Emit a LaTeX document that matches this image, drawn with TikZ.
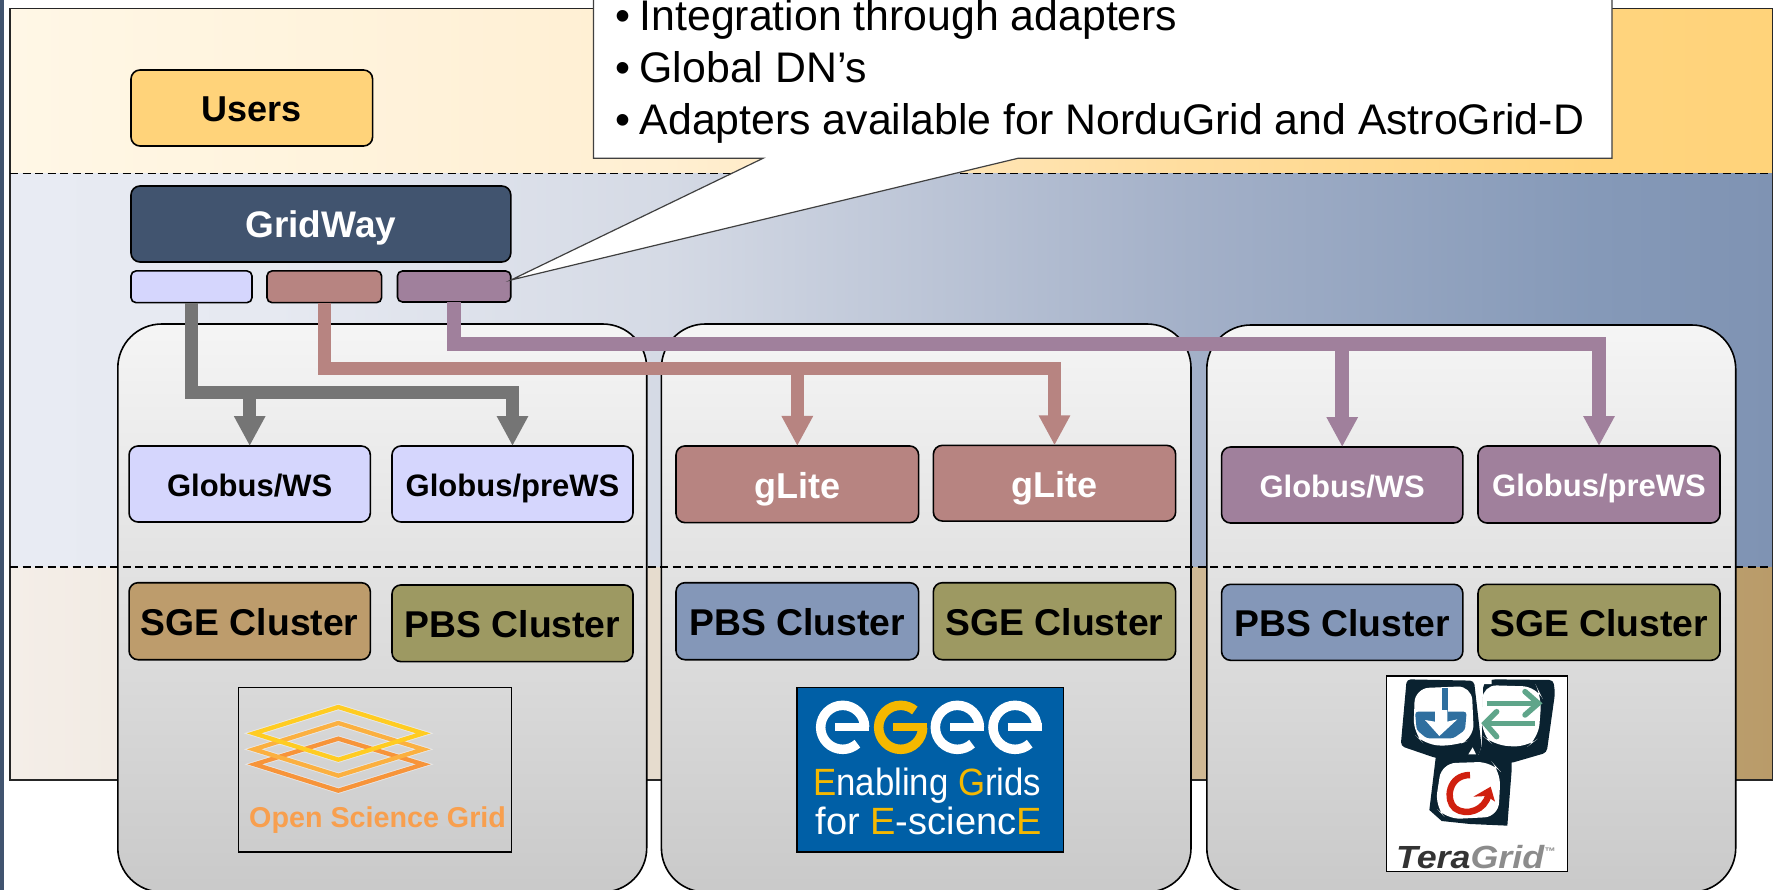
\documentclass[tikz,border=0pt]{standalone}
\usepackage{fontspec}
\usepackage{graphicx}
\setmainfont{Liberation Sans}
\usetikzlibrary{arrows.meta}
\definecolor{navy}{HTML}{41546F}
\definecolor{gold}{HTML}{FFD37A}
\definecolor{lilac}{HTML}{D5D6FD}
\definecolor{rosy}{HTML}{B78481}
\definecolor{mauve}{HTML}{A0809C}
\definecolor{tan}{HTML}{BD9C6C}
\definecolor{olive}{HTML}{9D9962}
\definecolor{steel}{HTML}{8497B8}
\definecolor{ashg}{HTML}{757575}
\definecolor{egeeblue}{HTML}{005FA6}
\definecolor{egeeyel}{HTML}{F5B800}
\definecolor{tgdark}{HTML}{0A2230}
\definecolor{tgblue}{HTML}{2F6F9F}
\definecolor{tggreen}{HTML}{5FA58A}
\definecolor{tgred}{HTML}{D0200F}
\definecolor{osgy}{HTML}{FFCC22}
\definecolor{osga}{HTML}{FBB040}
\definecolor{osgo}{HTML}{F7943A}
\definecolor{topa}{HTML}{FFF7E6}\definecolor{topb}{HTML}{FFEFD2}\definecolor{topc}{HTML}{FFDD9E}\definecolor{topd}{HTML}{FFD47E}\definecolor{tope}{HTML}{FFD37A}
\definecolor{mida}{HTML}{E8EBF3}\definecolor{midb}{HTML}{E6E9F1}\definecolor{midc}{HTML}{D5DAE5}\definecolor{midd}{HTML}{A3B0C8}\definecolor{mide}{HTML}{8599B8}\definecolor{midf}{HTML}{7F93B3}
\definecolor{lowa}{HTML}{F4EEE8}\definecolor{lowb}{HTML}{E6DCCE}\definecolor{lowc}{HTML}{CFB995}\definecolor{lowd}{HTML}{B99B69}
\pgfdeclarehorizontalshading{topband}{100bp}{color(0bp)=(topa);color(25bp)=(topa);color(43.5bp)=(topb);color(58.5bp)=(topc);color(70bp)=(topd);color(75bp)=(tope);color(100bp)=(tope)}
\pgfdeclarehorizontalshading{midband}{100bp}{color(0bp)=(mida);color(25bp)=(mida);color(32.5bp)=(midb);color(43.5bp)=(midc);color(58.5bp)=(midd);color(70bp)=(mide);color(75bp)=(midf);color(100bp)=(midf)}
\pgfdeclarehorizontalshading{lowband}{100bp}{color(0bp)=(lowa);color(25bp)=(lowa);color(43.5bp)=(lowb);color(58.5bp)=(lowc);color(75bp)=(lowd);color(100bp)=(lowd)}
\tikzset{
  boxbase/.style={draw=black,line width=1.6pt,rounded corners=9pt,inner sep=0pt,outer sep=0pt,align=center},
  bigtxt/.style={boxbase,font=\fontsize{37}{40}\selectfont\bfseries,text height=26.5pt,text depth=0pt},
  clustxt/.style={boxbase,font=\fontsize{37.3}{40}\selectfont\bfseries,text height=29pt,text depth=0pt},
  midtxt/.style={boxbase,font=\fontsize{31}{34}\selectfont\bfseries,text height=24pt,text depth=0pt},
  glitetxt/.style={boxbase,font=\fontsize{36}{40}\selectfont\bfseries,text height=28pt,text depth=0pt},
  stub/.style={boxbase,rounded corners=5pt},
  cluster/.style={draw=black,line width=1.6pt,rounded corners=44pt,inner sep=0pt,outer sep=0pt,top color=white!96!black,bottom color=black!21},
  logobox/.style={draw=black,line width=1.6pt,inner sep=0pt,outer sep=0pt},
  calltxt/.style={anchor=base west,inner sep=0pt,font=\fontsize{42.8}{52}\selectfont},
  sepline/.style={draw=black,line width=1.5pt,dash pattern=on 8pt off 4.5pt},
  wire/.style={line width=13.5pt,-{Triangle[length=30pt,width=29.5pt]}},
}
\newcommand{\bulletline}[1]{\makebox[24.5pt][l]{•}#1}
\newcommand{\egeeE}[1]{%
  \draw[white,line width=9.5pt] (#1+66,172) arc[start angle=0,end angle=312,radius=22pt];
  \draw[white,line width=7.8pt] (#1-22,172) -- (#1+80,172);}
\begin{document}
\begin{tikzpicture}[x=1pt,y=-1pt]
\clip (0,0) rectangle (1776,890);
\fill[white] (0,0) rectangle (1776,890);
\fill[navy] (0,0) rectangle (3.5,890);
% bands
\shade[shading=topband] (10.2,8.5) rectangle (1772.5,173.7);
\shade[shading=midband] (10.2,173.7) rectangle (1772.5,567);
\shade[shading=lowband] (10.2,567) rectangle (1772.5,780);
\draw[line width=1.5pt,draw=black!85] (10.2,8.5) rectangle (1772.5,780);
% clusters
\node[cluster,minimum width=528.9pt,minimum height=568pt] (c1) at (382.25,608) {};
\node[cluster,minimum width=529.6pt,minimum height=568pt] (c2) at (926.2,608) {};
\node[cluster,minimum width=528.9pt,minimum height=567pt] (c3) at (1471.25,608.5) {};
\coordinate (sepA) at (10.2,173.7);
\coordinate (sepB) at (1772.5,173.7);
\coordinate (sepC) at (10.2,567);
\coordinate (sepD) at (1772.5,567);
\draw[sepline] (sepA) -- (sepB);
\draw[sepline] (sepC) -- (sepD);
% boxes
\node[bigtxt,fill=gold,minimum width=241.6pt,minimum height=76pt] (users) at (251.8,108) {\fontsize{36}{40}\selectfont Users};
\node[bigtxt,fill=navy,text=white,minimum width=379.8pt,minimum height=76pt] (gridway) at (320.9,224) {GridWay};
\node[stub,fill=lilac,minimum width=121pt,minimum height=31.7pt] (a1) at (191.5,286.8) {};
\node[stub,fill=rosy,minimum width=114.6pt,minimum height=31.7pt] (a2) at (324.3,286.8) {};
\node[stub,fill=mauve,minimum width=113.3pt,minimum height=31pt] (a3) at (454.1,286.5) {};
\node[midtxt,fill=lilac,minimum width=241.3pt,minimum height=76pt] (g1) at (249.7,484) {Globus/WS};
\node[midtxt,fill=lilac,minimum width=241pt,minimum height=76pt] (g2) at (512.5,484) {Globus/preWS};
\node[glitetxt,fill=rosy,text=white,minimum width=242.6pt,minimum height=76.7pt] (l1) at (797.3,484.3) {gLite};
\node[glitetxt,fill=rosy,text=white,minimum width=242.3pt,minimum height=75.7pt] (l2) at (1054.5,483.2) {gLite};
\node[midtxt,fill=mauve,text=white,minimum width=241.3pt,minimum height=76pt] (t1) at (1342.2,485) {Globus/WS};
\node[midtxt,fill=mauve,text=white,minimum width=242pt,minimum height=77pt] (t2) at (1599,484.5) {Globus/preWS};
\node[clustxt,fill=tan,minimum width=241.3pt,minimum height=77pt] (s1) at (249.7,621.2) {SGE Cluster};
\node[clustxt,fill=olive,minimum width=241pt,minimum height=76.7pt] (s2) at (512.5,623.3) {PBS Cluster};
\node[clustxt,fill=steel,minimum width=242.6pt,minimum height=77pt] (s3) at (797.3,621.2) {PBS Cluster};
\node[clustxt,fill=olive,minimum width=242.3pt,minimum height=77pt] (s4) at (1054.5,621.2) {SGE Cluster};
\node[clustxt,fill=steel,minimum width=241.3pt,minimum height=76pt] (s5) at (1342.2,622.3) {PBS Cluster};
\node[clustxt,fill=olive,minimum width=242pt,minimum height=76pt] (s6) at (1599,622.3) {SGE Cluster};
% connectors
\coordinate (busA) at (0,392.3);
\coordinate (busB) at (0,368.3);
\coordinate (busC) at (0,344.2);
\draw[wire,draw=ashg] (a1.south) -- (a1.south |- busA) -- (g1.north |- busA) -- (g1.north);
\draw[wire,draw=ashg] (a1.south) -- (a1.south |- busA) -- (g2.north |- busA) -- (g2.north);
\draw[wire,draw=rosy] (a2.south) -- (a2.south |- busB) -- (l1.north |- busB) -- (l1.north);
\draw[wire,draw=rosy] (a2.south) -- (a2.south |- busB) -- (l2.north |- busB) -- (l2.north);
\draw[wire,draw=mauve] (a3.south) -- (a3.south |- busC) -- (t1.north |- busC) -- (t1.north);
\draw[wire,draw=mauve] (a3.south) -- (a3.south |- busC) -- (t2.north |- busC) -- (t2.north);
% callout
\coordinate (tip) at (511,280);
\filldraw[fill=white,draw=black!75,line width=1.2pt] (593.4,-5) -- (593.4,158.3) -- (763,158.3) -- (tip) -- (1018,158.3) -- (1612,158.3) -- (1612,-5) -- cycle;
\node[calltxt] (call1) at (615,31) {\bulletline{Integration through adapters}};
\node[calltxt] (call2) at (615,83) {\bulletline{Global DN’s}};
\node[calltxt] (call3) at (615,135) {\bulletline{Adapters available for NorduGrid and AstroGrid-D}};
% OSG logo
\node[logobox,minimum width=272.9pt,minimum height=164.4pt] (osg) at (374.85,769.5) {};
\begin{scope}[shift={(220,670)},x=0.33333pt,y=-0.33333pt,line join=miter]
\draw[white,opacity=.45,line width=6pt] (104,283) -- (355,206) -- (610,283) -- (355,362) -- cycle;
\draw[white,opacity=.45,line width=6pt] (102,238) -- (355,159) -- (610,238) -- (355,317) -- cycle;
\draw[white,opacity=.45,line width=6pt] (102,190) -- (355,111) -- (610,190) -- (355,269) -- cycle;
\draw[osgo,line width=4.3pt] (104,283) -- (355,206) -- (610,283) -- (355,362) -- cycle;
\draw[osga,line width=4.3pt] (102,238) -- (355,159) -- (610,238) -- (355,317) -- cycle;
\draw[osgy,line width=4.3pt] (102,190) -- (355,111) -- (610,190) -- (355,269) -- cycle;
\end{scope}
\node[anchor=base west,inner sep=0pt,text=osgo!90!white,font=\fontsize{28.7}{32}\selectfont\bfseries] (osgt) at (249,827.7) {Open Science Grid};
% EGEE logo
\node[logobox,fill=egeeblue,minimum width=266.6pt,minimum height=164.4pt] (egee) at (930,769.5) {};
\begin{scope}[shift={(780,670)},x=0.33333pt,y=-0.33333pt]
\egeeE{188}
\draw[egeeyel,line width=9.5pt] (428,172) arc[start angle=0,end angle=-310,radius=22pt];
\draw[egeeyel,line width=7.8pt] (340,172) -- (442,172);
\egeeE{532}
\egeeE{705}
\end{scope}
\node[anchor=base west,inner sep=0pt,text=white,font=\fontsize{38}{40}\selectfont] (eg1) at (813,795) {\scalebox{.915}[1]{\textcolor{egeeyel}{E}nabling \textcolor{egeeyel}{G}rids}};
\node[anchor=base west,inner sep=0pt,text=white,font=\fontsize{38}{40}\selectfont] (eg2) at (815.5,834.3) {for \textcolor{egeeyel}{E}-scienc\textcolor{egeeyel}{E}};
% TeraGrid logo
\node[logobox,fill=white,minimum width=181.2pt,minimum height=195.3pt] (tera) at (1476.9,773.65) {};
\begin{scope}[shift={(1370,660)},x=0.33333pt,y=-0.33333pt]
\fill[tgdark,rounded corners=4pt] (110,58) -- (312,62) -- (335,262) -- (320,295) -- (200,295) -- (92,258) -- (95,225) -- cycle;
\fill[tgdark,rounded corners=4pt] (365,58) -- (550,60) -- (555,100) -- (530,278) -- (420,310) -- (320,295) -- (335,262) -- (340,70) -- cycle;
\fill[tgdark] (198,285) -- (425,285) -- (425,330) -- (412,497) -- (300,492) -- (215,483) -- (178,450) -- cycle;
\fill[white] (295,283) -- (318,283) -- (308,262) -- cycle;
\fill[white,rounded corners=14pt] (135,85) -- (305,78) -- (312,235) -- (255,258) -- (165,255) -- (130,220) -- cycle;
\fill[white,rounded corners=14pt] (338,75) -- (500,80) -- (515,110) -- (505,235) -- (470,262) -- (370,255) -- (335,225) -- cycle;
\fill[white,rounded corners=14pt] (215,310) -- (365,305) -- (392,335) -- (385,470) -- (230,478) -- (195,440) -- cycle;
\fill[white] (320,53) -- (365,53) -- (365,72) -- (322,72) -- cycle;
% blue spade
\draw[tgblue,line width=6pt] (225,85) -- (225,160);
\fill[tgblue,rounded corners=3pt] (135,155) -- (290,155) -- (285,210) -- (250,235) -- (170,235) -- (140,210) -- cycle;
\fill[white] (195,150) -- (232,150) -- (232,185) -- (262,178) -- (208,228) -- (165,180) -- (195,185) -- cycle;
% green arrows
\draw[tggreen,line width=5.5pt] (350,130) -- (500,130);
\draw[tggreen,line width=5.5pt,line cap=round] (465,95) -- (505,130) -- (465,165);
\draw[tggreen,line width=5.5pt] (495,190) -- (350,190);
\draw[tggreen,line width=5.5pt,line cap=round] (380,155) -- (345,190) -- (380,230);
% red arrow
\draw[tgred,line width=6.5pt] (300,345) .. controls (235,345) and (225,420) .. (255,445) .. controls (290,470) and (345,450) .. (355,405);
\fill[tgred] (310,410) -- (362,380) -- (375,425) -- (350,408) -- cycle;
\end{scope}
\node[anchor=base west,inner sep=0pt,font=\fontsize{32}{34}\selectfont\bfseries\itshape] (tgt) at (1396,868) {\scalebox{1.12}[1]{\textcolor{black!80}{Tera}\textcolor{black!45}{Grid}}\raisebox{13pt}{\textcolor{black!45}{\fontsize{11}{12}\selectfont ™}}};
\end{tikzpicture}
\end{document}
